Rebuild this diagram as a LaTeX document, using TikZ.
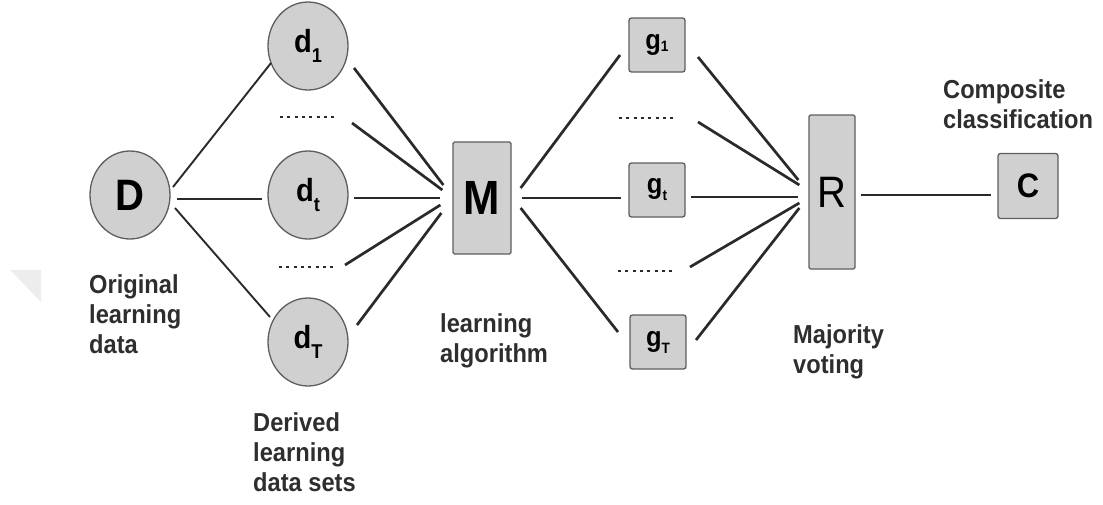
\documentclass[tikz,border=0pt]{standalone}
\usepackage{fontspec}
\setmainfont{Liberation Sans}[FakeStretch=0.91]
\usetikzlibrary{shapes.geometric,calc}
\definecolor{shapefill}{HTML}{D0D0D0}
\definecolor{shapeedge}{HTML}{5E5E5E}
\definecolor{linec}{HTML}{2A2A2A}
\definecolor{textc}{HTML}{2E2E2E}
\definecolor{faint}{HTML}{EDEDED}
\newcommand{\fs}[1]{\fontsize{#1}{#1}\selectfont}
\newcommand{\sub}[3]{\raisebox{-#2pt}{\fs{#1}#3}}
\begin{document}
\begin{tikzpicture}[x=1pt,y=-1pt,
  circ/.style={ellipse, draw=shapeedge, fill=shapefill, line width=1.3pt,
    minimum width=80pt, minimum height=88pt, inner sep=0pt, text=black},
  gbox/.style={rectangle, rounded corners=2.5pt, draw=shapeedge, fill=shapefill,
    line width=1.3pt, minimum width=56pt, minimum height=54pt, inner sep=0pt, text=black},
  tallbox/.style={rectangle, rounded corners=1.5pt, draw=shapeedge, fill=shapefill,
    line width=1.3pt, inner sep=0pt, text=black},
  thinline/.style={draw=linec, line width=1.9pt},
  thickline/.style={draw=linec, line width=2.7pt},
  dotrow/.style={draw=linec, line width=2.7pt, dash pattern=on 3pt off 4.3pt},
  lbl/.style={anchor=north west, align=left, inner sep=0pt, text=textc,
    font=\fontsize{26}{30}\selectfont\bfseries}]
\useasboundingbox (0,0) rectangle (1103,504);

% faint corner mark
\fill[faint] (10,270) -- (41,270) -- (41,302) -- cycle;

% nodes
\node[circ] (D)  at (130,195) {\fs{44}\bfseries D};
\node[circ] (d1) at (308,46)  {\fs{32}\bfseries d\sub{20}{10}{1}};
\node[circ] (dt) at (308,195) {\fs{32}\bfseries d\sub{20}{10}{t}};
\node[circ] (dT) at (308,342) {\fs{32}\bfseries d\sub{20}{10}{T}};

\node[tallbox, minimum width=58pt, minimum height=112pt] (M) at (482,198) {\fs{48}\bfseries M};

\node[gbox] (g1) at (657,45)  {\fs{28}\bfseries g\sub{15}{2}{1}};
\node[gbox] (gt) at (657,190) {\fs{28}\bfseries g\sub{15}{7}{t}};
\node[gbox] (gT) at (658,342) {\fs{28}\bfseries g\sub{15}{7}{T}};

\node[tallbox, minimum width=46pt, minimum height=154pt] (R) at (832,192) {\fs{44}R};
\node[gbox, minimum width=60pt, minimum height=65pt] (C) at (1028,186) {\fs{34}\bfseries C};

% rows of dots standing for the omitted sets and classifiers
\coordinate (u1) at (309,117);
\coordinate (u2) at (308,267);
\coordinate (u3) at (648,118);
\coordinate (u4) at (647,271);
\foreach \u in {u1,u2,u3,u4}
  \draw[dotrow] ($(\u)+(-29,0)$) -- ($(\u)+(29,0)$);

% original data to derived data sets
\draw[thinline] ($(D)+(43,-8)$)  -- ($(d1)+(-37,17)$);
\draw[thinline] ($(D)+(47,4)$)   -- ($(dt)+(-46,4)$);
\draw[thinline] ($(D)+(45,13)$)  -- ($(dT)+(-38,-25)$);

% derived data sets to the learning algorithm
\draw[thickline] ($(d1)+(46,22)$)  -- ($(M.west)+(-9,-13)$);
\draw[thickline] ($(u1)+(43,6)$)   -- ($(M.west)+(-10,-8)$);
\draw[thickline] ($(dt)+(46,3)$)   -- ($(M.west)+(-12,0)$);
\draw[thickline] ($(u2)+(37,-2)$)  -- ($(M.west)+(-12,7)$);
\draw[thickline] ($(dT)+(49,-17)$) -- ($(M.west)+(-11,15)$);

% learning algorithm to classifiers
\draw[thickline] ($(M.east)+(9,-10)$) -- ($(g1)+(-37,10)$);
\draw[thickline] ($(M.east)+(10,0)$)  -- ($(gt)+(-36,8)$);
\draw[thickline] ($(M.east)+(9,10)$)  -- ($(gT)+(-40,-10)$);

% classifiers to majority voting
\draw[thickline] ($(g1)+(41,12)$)  -- ($(R.west)+(-10,-12)$);
\draw[thickline] ($(u3)+(50,4)$)   -- ($(R.west)+(-9,-7)$);
\draw[thickline] ($(gt)+(34,7)$)   -- ($(R.west)+(-10,5)$);
\draw[thickline] ($(u4)+(43,-4)$)  -- ($(R.west)+(-9,11)$);
\draw[thickline] ($(gT)+(38,-2)$)  -- ($(R.west)+(-9,16)$);

% majority voting to composite classification
\draw[thinline] ($(R.east)+(5,3)$) -- ($(C.west)+(-6,9)$);

% captions
\node[lbl] (lD) at (89,274)  {Original\\learning\\data};
\node[lbl] (ld) at (253,412) {Derived\\learning\\data sets};
\node[lbl] (lM) at (440,313) {learning\\algorithm};
\node[lbl] (lR) at (793,324) {Majority\\voting};
\node[lbl] (lC) at (943,79)  {Composite\\classification};
\end{tikzpicture}
\end{document}
